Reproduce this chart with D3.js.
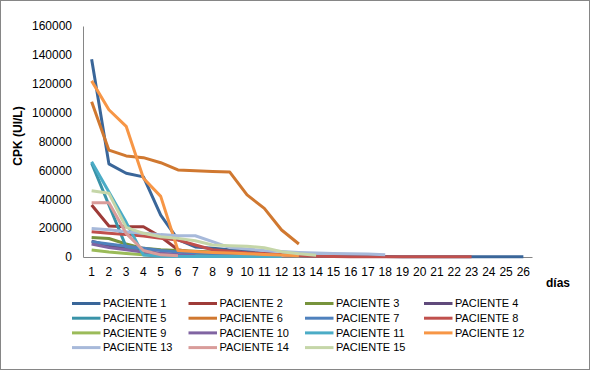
<!DOCTYPE html>
<html>
<head>
<meta charset="utf-8">
<script src="https://cdn.jsdelivr.net/npm/d3@7"></script>
<style>
  body { margin: 0; background: #fff; }
  text { font-family: "Liberation Sans", Arial, sans-serif; }
</style>
</head>
<body>
<svg id="chart" width="590" height="370"></svg>
<script>
// days on the x axis
var dias = d3.range(1, 27).map(String);
var yTicks = [0, 20000, 40000, 60000, 80000, 100000, 120000, 140000, 160000];

// CPK values per patient (UI/L), one value per day
var paciente1 = [137000, 64500, 58000, 55500, 29000, 12000, 7000, 6000, 5000, 4000, 2500, 1500, 1000, 700, 500, 400, 300, 300, 200, 200, 200, 200, 200, 200, 200, 200];
var paciente2 = [36000, 21500, 21000, 21000, 14000, 5000, 3000, 1500];
var paciente3 = [13500, 12800, 9000, 6000, 5000, 4500, 4000, 3500, 2500, 1500];
var paciente4 = [11000, 8000, 6000, 4000, 2500, 1500, 1000];
var paciente5 = [65000, 36000, 7000, 3000, 1500, 1000];
var paciente6 = [107500, 74000, 70000, 68800, 65300, 60300, 59800, 59300, 58800, 43000, 33700, 18700, 9000];
var paciente7 = [10500, 9000, 7500, 6000, 4500, 3500, 2500, 1800, 1200, 800];
var paciente8 = [17500, 16500, 15500, 14500, 13000, 11800, 8300, 5000, 4000, 3000, 2500, 1500, 1000, 500, 300, 200, 200, 200, 200, 200, 200, 200, 200];
var paciente9 = [4800, 3500, 2500, 1500, 1000, 800, 500, 300];
var paciente10 = [9000, 6500, 5000, 3500, 2500, 1500, 800];
var paciente11 = [66000, 45000, 24000, 1400, 500, 400, 400, 300, 300, 300, 300, 300];
var paciente12 = [122000, 102000, 90500, 54500, 42000, 4500, 3800, 3200, 2800, 2300, 1800, 1400, 800];
var paciente13 = [19800, 18800, 17500, 16500, 15500, 14800, 14700, 10600, 6500, 5500, 4500, 3800, 3200, 2800, 2500, 2300, 2000, 1500];
var paciente14 = [37600, 37600, 16400, 4500, 1500, 800];
var paciente15 = [45900, 44100, 20500, 16400, 14000, 12900, 11300, 8300, 7800, 7500, 6400, 3700, 2200, 1200];

var nombres = d3.range(1, 16).map(function(i) { return "PACIENTE " + i; });
var valores = [paciente1, paciente2, paciente3, paciente4, paciente5, paciente6, paciente7, paciente8,
               paciente9, paciente10, paciente11, paciente12, paciente13, paciente14, paciente15];
var colores = ["#3a6699", "#9e3b38", "#77933c", "#604a7b", "#3a93a8", "#d07830", "#4f81bd", "#c0504d",
               "#9bbb59", "#8064a2", "#4bacc6", "#f79646", "#a7b9da", "#d99c9a", "#c5d6a8"];

var svg = d3.select("#chart");

// chart border
svg.append("rect")
    .attr("x", 0.5).attr("y", 0.5)
    .attr("width", 589).attr("height", 369)
    .attr("fill", "#fff")
    .attr("stroke", "#868686");

var x = d3.scaleBand().domain(dias).range([83, 532]).padding(0);
var y = d3.scaleLinear().domain([0, 160000]).range([257, 26]);

// y axis
var yAxis = svg.append("g")
    .attr("transform", "translate(83,0)")
    .call(d3.axisLeft(y).tickValues(yTicks).tickSize(0).tickSizeOuter(0).tickPadding(11).tickFormat(d3.format("d")));
yAxis.select(".domain").attr("stroke", "#868686");
yAxis.selectAll("text").attr("font-size", 12).attr("fill", "#000");

// x axis
var xAxis = svg.append("g")
    .attr("transform", "translate(0,257)")
    .call(d3.axisBottom(x).tickSize(0).tickSizeOuter(0).tickPadding(10));
xAxis.select(".domain").attr("stroke", "#868686");
xAxis.selectAll("text").attr("font-size", 12).attr("fill", "#000");

// axis titles
svg.append("text")
    .attr("transform", "translate(22,136) rotate(-90)")
    .attr("text-anchor", "middle")
    .attr("font-size", 12)
    .attr("font-weight", "bold")
    .text("CPK (UI/L)");

svg.append("text")
    .attr("x", 558).attr("y", 287)
    .attr("text-anchor", "middle")
    .attr("font-size", 12)
    .attr("font-weight", "bold")
    .text("días");

// lines
var line = d3.line()
    .x(function(d, i) { return x(dias[i]) + x.bandwidth() / 2; })
    .y(function(d) { return y(d); });

svg.append("g").selectAll("path")
    .data(valores)
    .enter().append("path")
    .attr("d", function(d) { return line(d); })
    .attr("fill", "none")
    .attr("stroke", function(d, i) { return colores[i]; })
    .attr("stroke-width", 3)
    .attr("stroke-linejoin", "round");

// legend, 4 columns
var colX = [103, 219.5, 336, 455];
var legend = svg.append("g").selectAll("g")
    .data(nombres)
    .enter().append("g")
    .attr("transform", function(d, i) {
        return "translate(" + colX[i % 4] + "," + (303.5 + Math.floor(i / 4) * 14.7) + ")";
    });

legend.append("line")
    .attr("x1", -31).attr("x2", -2.5)
    .attr("stroke", function(d, i) { return colores[i]; })
    .attr("stroke-width", 3);

legend.append("text")
    .attr("x", 0)
    .attr("dy", "0.35em")
    .attr("font-size", 11)
    .text(function(d) { return d; });
</script>
</body>
</html>
